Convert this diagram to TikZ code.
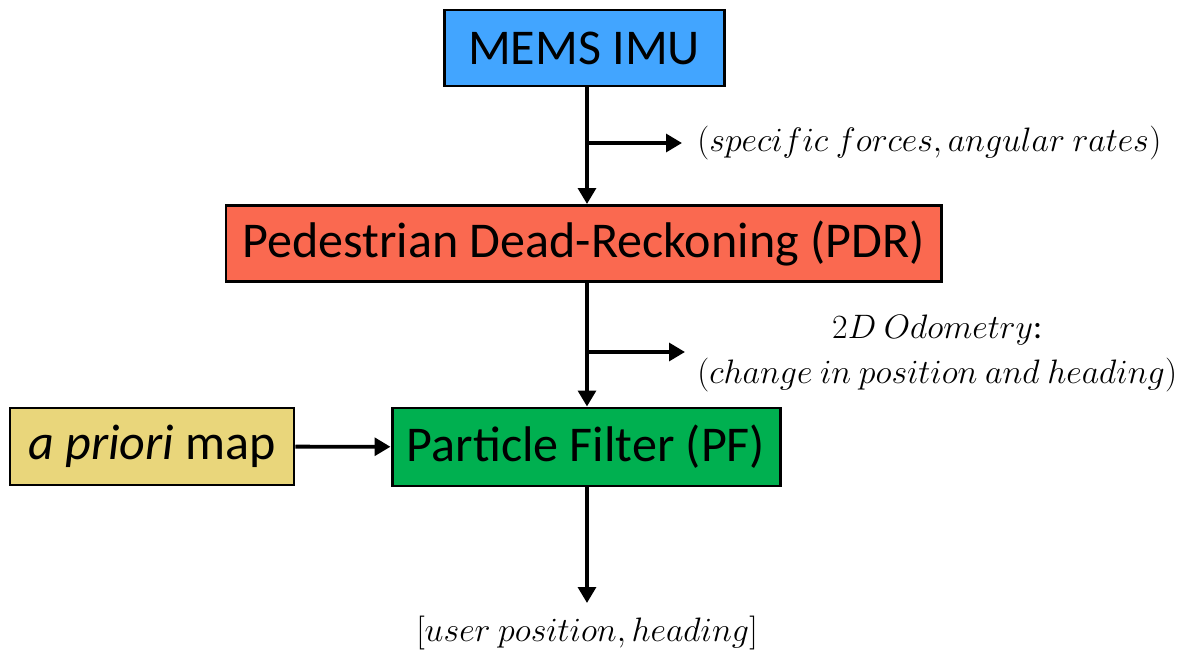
\documentclass[tikz,border=0pt]{standalone}
\usepackage{fix-cm}
\usepackage{amsmath,amssymb}
\usepackage{fontspec}
\setmainfont{Carlito}
\usetikzlibrary{arrows.meta}
\definecolor{imublue}{RGB}{66,165,255}
\definecolor{pdrred}{RGB}{250,105,80}
\definecolor{pfgreen}{RGB}{0,176,80}
\definecolor{mapyellow}{RGB}{233,214,123}

\begin{document}
\begin{tikzpicture}[
  block/.style={draw=black,line width=1.7pt,minimum height=1.52cm,inner sep=0pt,
    font=\fontsize{28.5}{34}\selectfont},
  flow/.style={line width=2.2pt,-{Triangle[length=9pt,width=10pt]}},
  lbl/.style={font=\fontsize{19.3}{26}\selectfont}]
\useasboundingbox (0,0) rectangle (23.82,13.1);
\node[block,fill=imublue,minimum width=5.6cm] (imu) at (11.68,12.14) {MEMS IMU};
\node[block,fill=pdrred,minimum width=14.3cm] (pdr) at (11.67,8.23) {Pedestrian Dead-Reckoning (PDR)};
\node[block,fill=pfgreen,minimum width=7.76cm,minimum height=1.56cm] (pf) at (11.72,4.16) {Particle Filter (PF)};
\node[block,fill=mapyellow,minimum width=5.68cm,minimum height=1.54cm] (map) at (3.04,4.17) {\textit{a priori} map};

\coordinate (imuout) at (11.74,10.24);
\coordinate (pdrout) at (11.74,6.06);
\coordinate (pfout) at (11.74,1.04);
\node[lbl,anchor=west,inner sep=0.3cm] (rates) at (13.64,10.24) {$(specific\ forces, angular\ rates)$};
\node[lbl,anchor=west,align=center,inner sep=0.24cm] (odo) at (13.70,6.03)
  {$2D\ Odometry$:\\$(change\ in\ position\ and\ heading)$};
\node[lbl] (user) at (11.74,0.44) {$[user\ position, heading]$};

\draw[flow] (imuout |- imu.south) -- (imuout |- pdr.north);
\draw[flow] (imuout) -- (rates.west);
\draw[flow] (pdrout |- pdr.south) -- (pdrout |- pf.north);
\draw[flow] (pdrout) -- (pdrout -| odo.west);
\draw[flow] (pfout |- pf.south) -- (pfout);
\draw[flow] (map) -- (pf);
\end{tikzpicture}
\end{document}
